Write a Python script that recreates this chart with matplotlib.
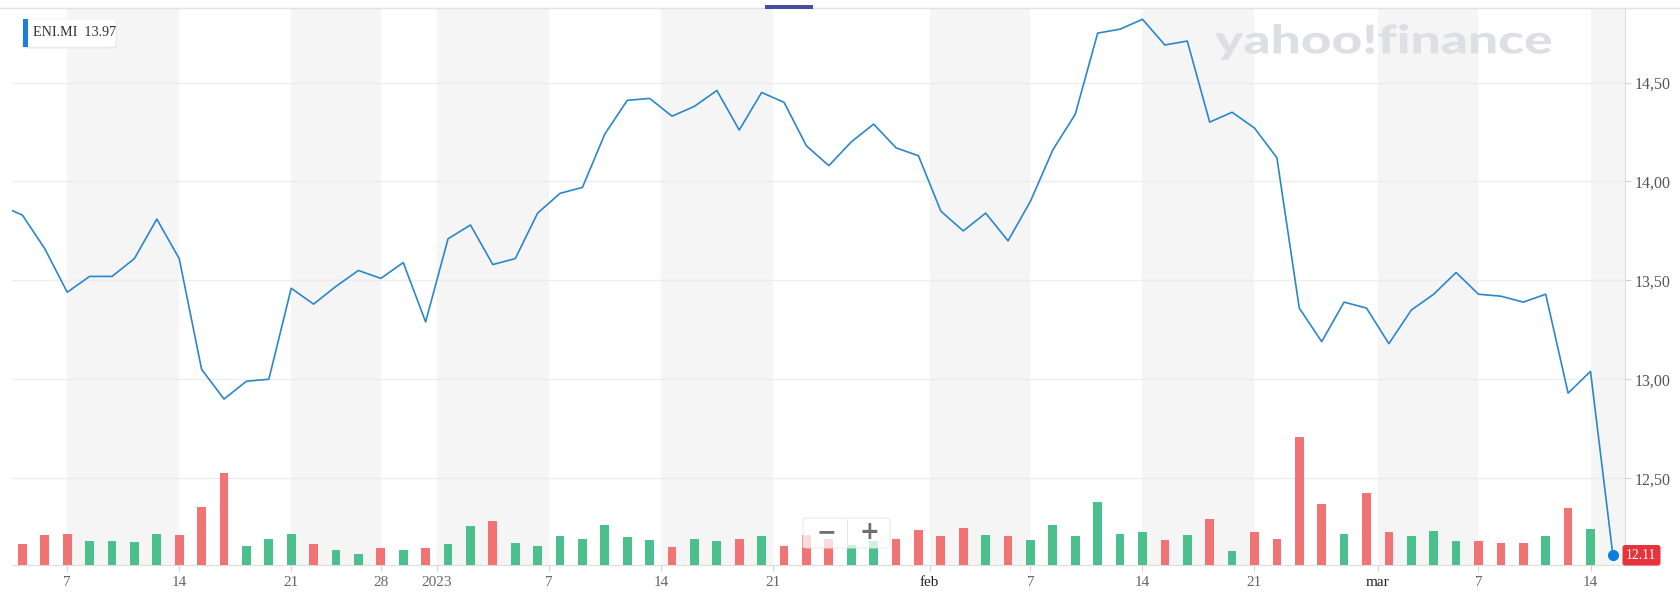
import numpy as np
import pandas as pd
import matplotlib.pyplot as plt
import matplotlib.transforms as mtransforms
from matplotlib.patches import FancyBboxPatch, Rectangle, PathPatch
from matplotlib.lines import Line2D
from matplotlib.textpath import TextPath
from matplotlib.font_manager import FontProperties

# giorni di borsa (Milano chiusa il 26 dicembre)
days = pd.bdate_range("2022-12-02", "2023-03-15")
days = days[days != pd.Timestamp("2022-12-26")]

close = [13.88, 13.83, 13.66, 13.44, 13.52, 13.52, 13.61, 13.81, 13.61, 13.05,
         12.90, 12.99, 13.00, 13.46, 13.38, 13.47, 13.55, 13.51, 13.59, 13.29,
         13.71, 13.78, 13.58, 13.61, 13.84, 13.94, 13.97, 14.24, 14.41, 14.42,
         14.33, 14.38, 14.46, 14.26, 14.45, 14.40, 14.18, 14.08, 14.20, 14.29,
         14.17, 14.13, 13.85, 13.75, 13.84, 13.70, 13.90, 14.16, 14.34, 14.75,
         14.77, 14.82, 14.69, 14.71, 14.30, 14.35, 14.27, 14.12, 13.36, 13.19,
         13.39, 13.36, 13.18, 13.35, 13.43, 13.54, 13.43, 13.42, 13.39, 13.43,
         12.93, 13.04, 12.11]

# volumi (milioni) dal 5 dic al 14 mar
volume = [7.3, 10.7, 11.1, 8.4, 8.4, 8.0, 11.1, 10.7, 20.5, 32.6,
          6.8, 9.2, 11.1, 7.3, 5.3, 3.8, 6.1, 5.3, 6.1, 7.3,
          13.8, 15.4, 7.6, 6.8, 10.2, 9.2, 14.1, 9.9, 8.8, 6.5,
          9.2, 8.4, 9.2, 10.2, 6.8, 10.7, 9.2, 7.1, 8.6, 9.2,
          12.4, 10.2, 13.1, 10.7, 10.2, 8.8, 14.1, 10.2, 22.4, 11.1,
          11.5, 8.8, 10.7, 16.1, 4.9, 11.5, 9.2, 45.3, 21.5, 11.1,
          25.5, 11.5, 10.2, 11.9, 8.4, 8.4, 7.6, 7.6, 10.2, 20.0,
          12.7]

tick_dates = ["2022-12-07", "2022-12-14", "2022-12-21", "2022-12-28", "2023-01-01",
              "2023-01-07", "2023-01-14", "2023-01-21", "2023-02-01", "2023-02-07",
              "2023-02-14", "2023-02-21", "2023-03-01", "2023-03-07", "2023-03-14"]
tick_labels = ["7", "14", "21", "28", "2023", "7", "14", "21", "feb", "7",
               "14", "21", "mar", "7", "14"]
price_ticks = [12.5, 13.0, 13.5, 14.0, 14.5]


def tick_pos(d, lab):
    d = pd.Timestamp(d)
    i = days.searchsorted(d)
    if lab.isdigit() and i < len(days) and days[i] == d:
        return i
    return i - 0.5


ticks = [tick_pos(d, l) for d, l in zip(tick_dates, tick_labels)]
x = np.arange(len(days))
xv = x[1:1 + len(volume)]

W, H = 1681, 600
fig = plt.figure(figsize=(W / 100, H / 100), dpi=100)
plt.rcParams["font.family"] = ["Liberation Serif", "DejaVu Serif"]

L, R, T, B = 12, 1625, 8.6, 565
rect = [L / W, 1 - B / H, (R - L) / W, (B - T) / H]
ax = fig.add_axes(rect)
axv = fig.add_axes(rect, sharex=ax)
axv.patch.set_visible(False)

step = R / 72.54
ax.set_xlim(L / step, R / step)
ax.set_ylim(12.061, 14.874)
axv.set_ylim(0, 196.4)

# bande settimanali alterne
for i in range(0, len(ticks), 2):
    end = ticks[i + 1] if i + 1 < len(ticks) else R / step
    ax.axvspan(ticks[i], end, color="#f5f5f5", lw=0, zorder=0)

ax.set_yticks(price_ticks)
ax.set_yticklabels([f"{v:.2f}".replace(".", ",") for v in price_ticks])
ax.yaxis.tick_right()
ax.yaxis.grid(True, color="#ededed", lw=1)
ax.set_xticks(ticks, tick_labels)
ax.tick_params(axis="y", length=4, color="#d0d0d0", labelsize=11.5, labelcolor="#555555", pad=3)
ax.tick_params(axis="x", length=4, color="#d0d0d0", labelsize=11, labelcolor="#666666", pad=4)
for lab in ax.get_xticklabels():
    if not lab.get_text().isdigit():
        lab.set_color("#222222" if lab.get_text() != "2023" else "#555555")
for s in ["top", "left"]:
    ax.spines[s].set_visible(False)
ax.spines["right"].set_color("#dddddd")
ax.spines["bottom"].set_color("#dddddd")
for s in axv.spines.values():
    s.set_visible(False)
axv.tick_params(left=False, labelleft=False, bottom=False, labelbottom=False)

colors = ["#4cc08c" if close[i] >= close[i - 1] else "#f27373" for i in xv]
axv.bar(xv, volume, width=0.39, color=colors, zorder=2)

axv.plot(x, close, color="#2a87cc", lw=1.2, transform=ax.transData, zorder=3)
axv.plot(x[-1], close[-1], "o", color="#0b7fe0", ms=7, transform=ax.transData,
         zorder=4, clip_on=False)

tr = mtransforms.blended_transform_factory(ax.transAxes, ax.transData)
axv.text((1641.5 - L) / (R - L), close[-1], f"{close[-1]:.2f}", transform=tr,
         ha="center", va="center", fontsize=9.8, color="white", zorder=5,
         bbox=dict(boxstyle="round,pad=0.28,rounding_size=0.2", fc="#e5343c", ec="none"))


def fx(px):
    return px / W


def fy(py):
    return 1 - py / H


# riquadro legenda
fig.patches.append(FancyBboxPatch((fx(24), fy(48.5)), fx(93), 28.5 / H,
                                  boxstyle="round,pad=0,rounding_size=0.003",
                                  transform=fig.transFigure, fc="#e9e9e9", ec="none", zorder=5))
fig.patches.append(FancyBboxPatch((fx(23), fy(47)), fx(93), 28 / H,
                                  boxstyle="round,pad=0,rounding_size=0.003",
                                  transform=fig.transFigure, fc="white", ec="#eeeeee", lw=0.6, zorder=6))
fig.patches.append(Rectangle((fx(23), fy(47)), fx(5), 28 / H, transform=fig.transFigure,
                             fc="#1a7fd6", ec="none", zorder=7))
fig.text(fx(33), fy(33), "ENI.MI  13.97", fontsize=10.2, color="#333333", va="center", zorder=8)

# logo: testo allargato per occupare il riquadro 1215-1551 x 24-60 px
logo = TextPath((0, 0), "yahoo!finance", size=40,
                prop=FontProperties(family="Lato", weight="black"))
ext = logo.get_extents()
sx = (1551 - 1215) / ext.width
sy = (60 - 24) / ext.height
fig.patches.append(PathPatch(logo, transform=mtransforms.Affine2D().translate(-ext.x0, -ext.y0)
                             .scale(sx, sy).translate(1215, H - 60),
                             fc="#dcdfe3", ec="none", zorder=1))

# pulsanti zoom
fig.patches.append(FancyBboxPatch((fx(803), fy(548)), fx(87), 30 / H,
                                  boxstyle="round,pad=0,rounding_size=0.003",
                                  transform=fig.transFigure, fc="white", alpha=0.75,
                                  ec="#e4e4e4", lw=0.8, zorder=6))
fig.lines.append(Line2D([fx(847), fx(847)], [fy(519), fy(547)], transform=fig.transFigure,
                        color="#e4e4e4", lw=0.8, zorder=7))
fig.text(fx(826), fy(532), "−", family="DejaVu Sans", weight="bold", fontsize=17,
         color="#707070", ha="center", va="center", zorder=8)
fig.text(fx(869), fy(532), "+", family="DejaVu Sans", weight="bold", fontsize=17,
         color="#707070", ha="center", va="center", zorder=8)

# bordo superiore
fig.lines.append(Line2D([0, 1], [fy(7.5), fy(7.5)], transform=fig.transFigure,
                        color="#e2e2e2", lw=1, zorder=2))
fig.patches.append(Rectangle((fx(765), fy(9)), fx(48), 3.5 / H, transform=fig.transFigure,
                             fc="#474e9c", ec="none", zorder=3))

fig.savefig("out.png", dpi=100)
